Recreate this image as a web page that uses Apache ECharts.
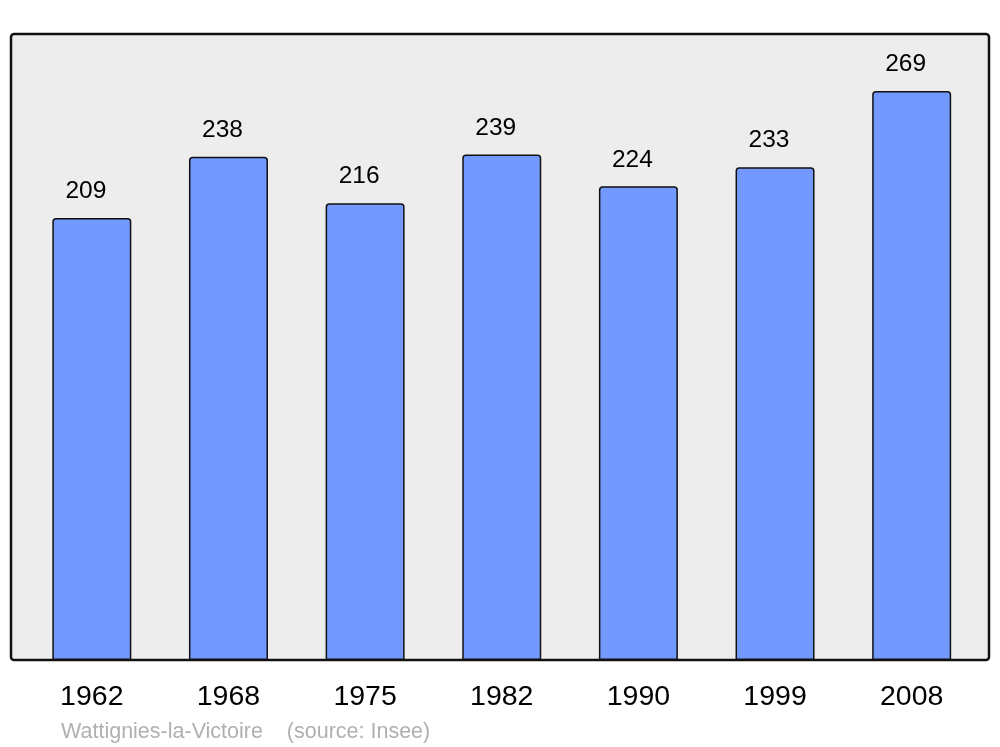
<!DOCTYPE html>
<html>
<head>
<meta charset="utf-8">
<script src="https://cdn.jsdelivr.net/npm/echarts@6/dist/echarts.min.js"></script>
<style>
  html, body { margin: 0; padding: 0; background: #fff; }
  #chart { width: 1000px; height: 747px; }
</style>
</head>
<body>
<div id="chart"></div>
<script>
// recensements
const years = ['1962', '1968', '1975', '1982', '1990', '1999', '2008']
const population = [209, 238, 216, 239, 224, 233, 269]
const caption = 'Wattignies-la-Victoire    (source: Insee)'

const chart = echarts.init(document.getElementById('chart'))
chart.setOption({
  animation: false,
  grid: { left: 23.5, right: 20, top: 34, bottom: 87 },
  graphic: [
    {
      type: 'rect',
      z: -10,
      shape: { x: 11, y: 34, width: 978, height: 626, r: 3 },
      style: { fill: '#ededed', stroke: '#111', lineWidth: 2.5 },
    },
    {
      type: 'text',
      left: 61,
      top: 721,
      style: {
        text: caption,
        fill: '#b0b0b0',
        fontSize: 21.5,
        fontFamily: 'Liberation Sans',
      },
    },
  ],
  xAxis: {
    type: 'category',
    data: years,
    axisLine: { show: false },
    axisTick: { show: false },
    axisLabel: {
      color: '#000',
      fontSize: 28.5,
      fontFamily: 'Liberation Sans',
      margin: 23,
    },
  },
  yAxis: {
    type: 'value',
    min: 0,
    max: 296,
    show: false,
    splitLine: { show: false },
  },
  series: [
    {
      type: 'bar',
      data: population,
      barWidth: 79,
      itemStyle: {
        color: '#7399ff',
        borderColor: '#111',
        borderWidth: 1.5,
        borderRadius: [3, 3, 0, 0],
      },
      label: {
        show: true,
        position: 'top',
        distance: 14,
        offset: [-6, 0],
        color: '#000',
        fontSize: 24.5,
        fontFamily: 'Liberation Sans',
      },
    },
  ],
})
</script>
</body>
</html>
